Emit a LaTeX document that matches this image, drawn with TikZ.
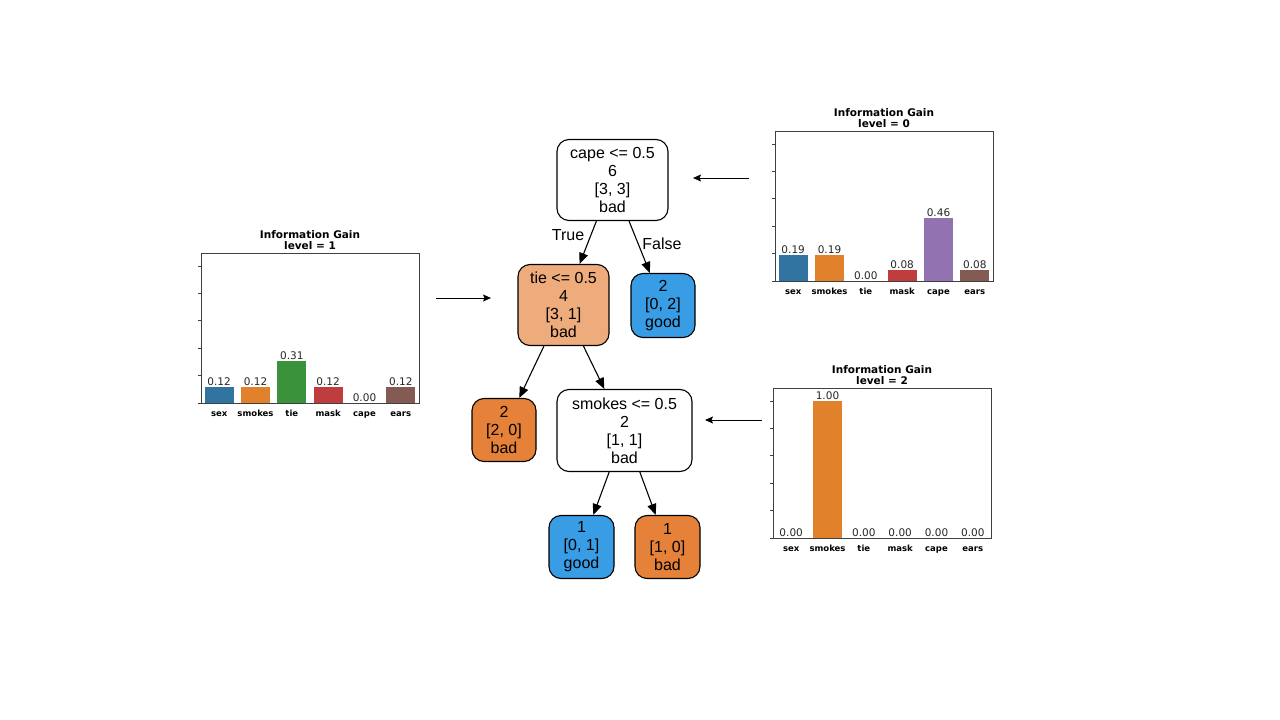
\documentclass[tikz,border=0pt]{standalone}
\usepackage{fontspec}
\setmainfont{Liberation Sans}
\newfontfamily\dvfont{DejaVu Sans}
\usetikzlibrary{arrows.meta}
\definecolor{cSex}{HTML}{3274A1}
\definecolor{cSmk}{HTML}{E1812C}
\definecolor{cTie}{HTML}{3A923A}
\definecolor{cMsk}{HTML}{C03D3E}
\definecolor{cCap}{HTML}{9372B2}
\definecolor{cEar}{HTML}{845B53}
\definecolor{leafblue}{HTML}{399DE5}
\definecolor{leaforange}{HTML}{E58139}
\definecolor{midorange}{HTML}{EEAB7B}
\tikzset{
  tnode/.style={draw=black, line width=1.1pt, rounded corners=12pt, align=center,
    font=\fontsize{16}{18}\selectfont, inner sep=0pt},
  edgearrow/.style={-{Triangle[length=11pt,width=9pt]}, line width=1.1pt},
  ptr/.style={-{Stealth[length=8pt,width=7pt,inset=1.5pt]}, line width=1pt},
  edgelab/.style={font=\fontsize{16}{18}\selectfont, inner sep=0pt},
  vallab/.style={anchor=south, inner sep=1pt, text=black!85, font=\dvfont\fontsize{10.5}{11}\selectfont},
  ticklab/.style={inner sep=0pt, anchor=base, font=\dvfont\bfseries\fontsize{8.5}{9}\selectfont},
  charttitle/.style={inner sep=0pt, font=\dvfont\bfseries\fontsize{10.5}{12}\selectfont},
  axisline/.style={draw=black!75, line width=0.8pt}
}
\newcommand\igchart[9]{%
  \begin{scope}[shift={(#1,#2)}]
    \foreach \i/\v/\c/\n in {0/#4/cSex/sex,1/#5/cSmk/smokes,2/#6/cTie/tie,3/#7/cMsk/mask,4/#8/cCap/cape,5/#9/cEar/ears}{
      \pgfmathsetmacro\cx{(\i+0.5)*218/6}
      \pgfmathsetmacro\hh{\v*137}
      \fill[\c] (\cx-14.5,0) rectangle (\cx+14.5,-\hh);
      \node[vallab] at (\cx,-\hh) {\v};
      \node[ticklab] at (\cx,13.5) {\n};
    }
    \foreach \k in {0,...,5} \draw[axisline] (-3,-\k*27.4) -- (0,-\k*27.4);
    \draw[axisline] (0,0) rectangle (218,-150);
    \node[charttitle] at (109,-168) {Information Gain};
    \node[charttitle] at (109,-157) {level = #3};
  \end{scope}}
\begin{document}
\begin{tikzpicture}[x=1pt,y=-1pt]
\fill[white] (0,0) rectangle (1280,720);
\useasboundingbox (0,0) rectangle (1280,720);

% tree nodes
\node[tnode, fill=white, minimum width=111pt, minimum height=81pt] (root) at (612.5,180)
  {cape <= 0.5\\6\\{}[3, 3]\\bad};
\node[tnode, fill=midorange, minimum width=91pt, minimum height=81pt] (tie) at (563.5,305)
  {tie <= 0.5\\4\\{}[3, 1]\\bad};
\node[tnode, fill=leafblue, minimum width=64pt, minimum height=64pt] (good2) at (663,305.5)
  {2\\{}[0, 2]\\good};
\node[tnode, fill=leaforange, minimum width=64pt, minimum height=63pt] (bad2) at (504,430)
  {2\\{}[2, 0]\\bad};
\node[tnode, fill=white, minimum width=135pt, minimum height=82pt] (smokes) at (624.5,430.5)
  {smokes <= 0.5\\2\\{}[1, 1]\\bad};
\node[tnode, fill=leafblue, minimum width=65pt, minimum height=63pt] (good1) at (581.5,547)
  {1\\{}[0, 1]\\good};
\node[tnode, fill=leaforange, minimum width=65pt, minimum height=63pt] (bad1) at (667.5,547)
  {1\\{}[1, 0]\\bad};

% tree edges
\draw[edgearrow] (root) -- (tie);
\draw[edgearrow] (root) -- (good2);
\draw[edgearrow] (tie) -- (bad2);
\draw[edgearrow] (tie) -- (smokes);
\draw[edgearrow] (smokes) -- (good1);
\draw[edgearrow] (smokes) -- (bad1);
\node[edgelab] (ltrue) at (568,235) {True};
\node[edgelab] (lfalse) at (662,244) {False};

% charts
\igchart{775}{281}{0}{0.19}{0.19}{0.00}{0.08}{0.46}{0.08}
\igchart{201}{403}{1}{0.12}{0.12}{0.31}{0.12}{0.00}{0.12}
\igchart{773}{538}{2}{0.00}{1.00}{0.00}{0.00}{0.00}{0.00}

% pointers from charts to tree
\coordinate (c0) at (749,178);
\coordinate (t0) at (693,178);
\coordinate (c1) at (436,298);
\coordinate (t1) at (491,298);
\coordinate (c2) at (762,420);
\coordinate (t2) at (705,420);
\draw[ptr] (c0) -- (t0);
\draw[ptr] (c1) -- (t1);
\draw[ptr] (c2) -- (t2);
\end{tikzpicture}
\end{document}
